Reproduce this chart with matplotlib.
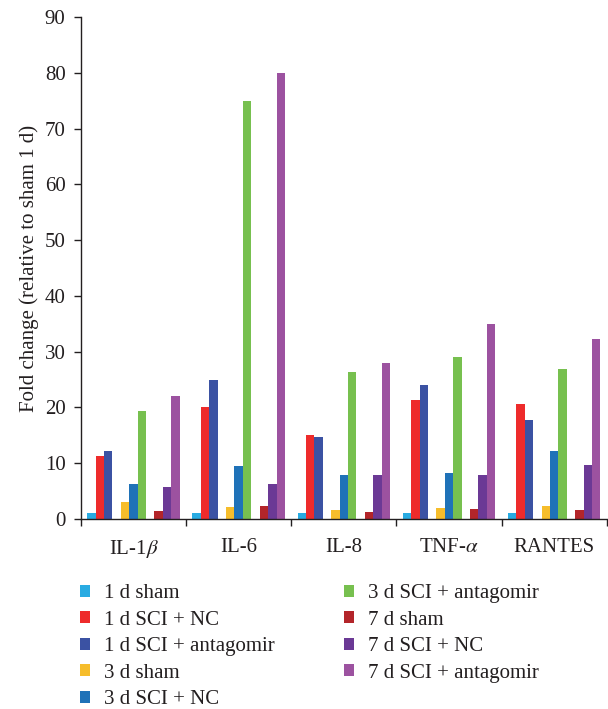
'''
Fold change of cytokines after SCI, grouped bars.
'''

import numpy as np
import matplotlib.pyplot as plt

plt.rcParams['font.family'] = ['Liberation Serif', 'DejaVu Serif']
plt.rcParams['mathtext.fontset'] = 'stix'

cytokines = ['IL-1$\\beta$', 'IL-6', 'IL-8', 'TNF-$\\alpha$', 'RANTES']

groups = ['1 d sham', '1 d SCI + NC', '1 d SCI + antagomir',
          '3 d sham', '3 d SCI + NC', '3 d SCI + antagomir',
          '7 d sham', '7 d SCI + NC', '7 d SCI + antagomir']

sham_1d = [1.0, 1.0, 1.0, 1.0, 1.0]
nc_1d = [11.3, 20.1, 15.1, 21.4, 20.6]
antag_1d = [12.2, 25.0, 14.7, 24.1, 17.8]
sham_3d = [3.1, 2.2, 1.7, 2.0, 2.4]
nc_3d = [6.3, 9.5, 7.8, 8.3, 12.2]
antag_3d = [19.4, 75.0, 26.4, 29.1, 26.9]
sham_7d = [1.5, 2.4, 1.3, 1.85, 1.7]
nc_7d = [5.8, 6.3, 7.9, 7.9, 9.7]
antag_7d = [22.1, 80.0, 28.0, 35.0, 32.3]

series = [sham_1d, nc_1d, antag_1d, sham_3d, nc_3d, antag_3d,
          sham_7d, nc_7d, antag_7d]

colors = ['#29ABE2', '#EE2B2B', '#3B52A3', '#F6BD2B', '#1F72B8',
          '#77C04F', '#B3252A', '#6B3995', '#9C52A0']

txt = '#231F20'
fs = 15


def plot():

    fig = plt.figure(figsize=(6.08, 7.09), dpi=100)
    ax = fig.add_axes([0.133, 0.268, 0.865, 0.708])

    x = np.arange(len(cytokines))
    w = 0.08
    # 3 bars, empty slot, 3 bars, empty slot, 3 bars
    for i, (vals, c, lab) in enumerate(zip(series, colors, groups)):
        slot = i + i // 3
        ax.bar(x + (slot - 5) * w, vals, width=w, color=c, label=lab, linewidth=0)

    ax.set_xlim(-0.5, 4.5)
    ax.set_ylim(0, 90)
    ax.set_yticks(range(0, 91, 10))

    ax.set_xticks(np.arange(-0.5, 5, 1))
    ax.set_xticklabels([])
    ax.set_xticks(x, minor=True)
    ax.set_xticklabels(cytokines, minor=True, fontsize=fs, color=txt)
    ax.tick_params(axis='x', which='minor', length=0, pad=14)
    ax.tick_params(axis='x', which='major', length=5, width=1, color=txt)
    ax.tick_params(axis='y', length=5, width=1, color=txt, labelsize=fs,
                   labelcolor=txt, pad=6)

    for s in ['top', 'right']:
        ax.spines[s].set_visible(False)
    for s in ['left', 'bottom']:
        ax.spines[s].set_color(txt)
        ax.spines[s].set_linewidth(1)

    ax.set_ylabel('Fold change (relative to sham 1 d)', fontsize=fs, color=txt, labelpad=4)

    fig.legend(loc='upper left', bbox_to_anchor=(0.131, 0.176), ncol=2,
               frameon=False, fontsize=fs, handlelength=0.5, handleheight=0.5,
               handletextpad=0.67, labelspacing=0.36, columnspacing=3.3,
               labelcolor=txt, borderaxespad=0, borderpad=0)

    plt.savefig('out.png', dpi=100)


if __name__ == "__main__":

    plot()
